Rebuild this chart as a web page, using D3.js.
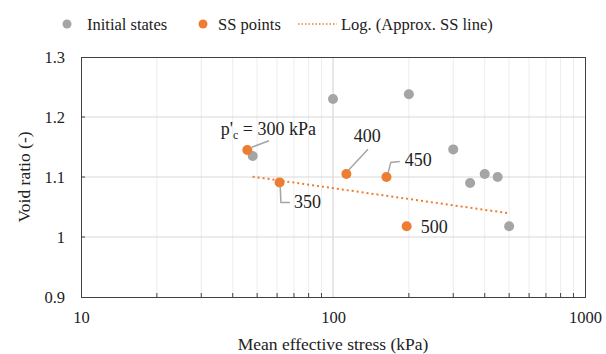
<!DOCTYPE html>
<html>
<head>
<meta charset="utf-8">
<script src="https://cdn.jsdelivr.net/npm/d3@7"></script>
<style>
  html, body { margin: 0; padding: 0; background: #fff; }
  svg { display: block; font-family: "Liberation Serif", "Times New Roman", serif; }
</style>
</head>
<body>
<svg id="chart" width="606" height="354"></svg>
<script>
// Initial states (mean effective stress in kPa, void ratio)
const initialP = [48, 100, 200, 300, 350, 400, 450, 500];
const initialE = [1.135, 1.230, 1.238, 1.146, 1.090, 1.105, 1.100, 1.018];

// Steady-state points, one per preconsolidation pressure
const ssP = [45.7, 61.4, 113, 163, 196];
const ssE = [1.145, 1.091, 1.105, 1.100, 1.018];
const ssPc = [300, 350, 400, 450, 500];

// Logarithmic trendline end points (straight on a log axis)
const trendP = [48, 500];
const trendE = [1.1005, 1.0395];

// Axis ticks
const xTicks = [10, 100, 1000];
const xMinor = [20, 30, 40, 50, 60, 70, 80, 90, 200, 300, 400, 500, 600, 700, 800, 900];
const yTicks = [0.9, 1.0, 1.1, 1.2, 1.3];

const legendLabels = ["Initial states", "SS points", "Log. (Approx. SS line)"];

const GREY = "#a5a5a5";
const ORANGE = "#ed7d31";
const SERIF = "Liberation Serif";

const svg = d3.select("#chart");
const plot = { left: 81, right: 585, top: 57, bottom: 297 };

const x = d3.scaleLog().domain([10, 1000]).range([plot.left, plot.right]);
const y = d3.scaleLinear().domain([0.9, 1.3]).range([plot.bottom, plot.top]);

// Gridlines
const grid = svg.append("g");
grid.selectAll("line.minor").data(xMinor).join("line")
  .attr("x1", d => x(d)).attr("x2", d => x(d))
  .attr("y1", plot.top).attr("y2", plot.bottom)
  .attr("stroke", "#ededed").attr("stroke-width", 1);
grid.selectAll("line.vmajor").data(xTicks.slice(1, -1)).join("line")
  .attr("x1", d => x(d)).attr("x2", d => x(d))
  .attr("y1", plot.top).attr("y2", plot.bottom)
  .attr("stroke", "#cfcfcf").attr("stroke-width", 1);
grid.selectAll("line.hmajor").data(yTicks.slice(1, -1)).join("line")
  .attr("x1", plot.left).attr("x2", plot.right)
  .attr("y1", d => y(d)).attr("y2", d => y(d))
  .attr("stroke", "#d9d9d9").attr("stroke-width", 1);

// Axes
const xAxis = d3.axisBottom(x).tickValues(xTicks).tickFormat(d3.format("d")).tickSize(0).tickPadding(14);
const gx = svg.append("g").attr("transform", `translate(0,${plot.bottom})`).call(xAxis);
gx.attr("font-family", SERIF);
gx.select(".domain").remove();
gx.selectAll("text").attr("font-size", 16.5).attr("fill", "#222");

const yAxis = d3.axisLeft(y).tickValues(yTicks).tickFormat(d => d3.format("")(+d.toFixed(1))).tickSize(0).tickPadding(16);
const gy = svg.append("g").attr("transform", `translate(${plot.left},0)`).call(yAxis);
gy.attr("font-family", SERIF);
gy.select(".domain").remove();
gy.selectAll("text").attr("font-size", 16.5).attr("fill", "#222");

// Inner tick marks
svg.append("g").selectAll("line").data(xMinor).join("line")
  .attr("x1", d => x(d)).attr("x2", d => x(d))
  .attr("y1", plot.bottom).attr("y2", plot.bottom - 4)
  .attr("stroke", "#444").attr("stroke-width", 1);
svg.append("g").selectAll("line").data(yTicks.slice(1, -1)).join("line")
  .attr("x1", plot.left).attr("x2", plot.left + 4)
  .attr("y1", d => y(d)).attr("y2", d => y(d))
  .attr("stroke", "#444").attr("stroke-width", 1);

// Plot frame
svg.append("rect")
  .attr("x", plot.left + 0.5).attr("y", plot.top + 0.5)
  .attr("width", plot.right - plot.left).attr("height", plot.bottom - plot.top)
  .attr("fill", "none").attr("stroke", "#404040").attr("stroke-width", 1);

// Trendline
svg.append("path")
  .datum(trendP.map((p, i) => [p, trendE[i]]))
  .attr("d", d3.line().x(d => x(d[0])).y(d => y(d[1])))
  .attr("fill", "none").attr("stroke", ORANGE).attr("stroke-width", 2)
  .attr("stroke-dasharray", "2,3");

// Initial states
svg.append("g").selectAll("circle").data(initialP.map((p, i) => [p, initialE[i]])).join("circle")
  .attr("cx", d => x(d[0])).attr("cy", d => y(d[1])).attr("r", 5)
  .attr("fill", GREY);

// SS points
const ss = ssP.map((p, i) => ({ p, e: ssE[i], pc: ssPc[i] }));
svg.append("g").selectAll("circle").data(ss).join("circle")
  .attr("cx", d => x(d.p)).attr("cy", d => y(d.e)).attr("r", 5)
  .attr("fill", ORANGE);

// Callout placement relative to each SS point: text offset and leader path
const callouts = {
  300: { tx: -26.6, ty: -15, leader: [[4.4, -2.7], [21.7, -9.3]] },
  350: { tx: 14.3, ty: 25.6, leader: [[0.6, 4], [1.3, 20], [10.3, 20]] },
  400: { tx: 7.3, ty: -32.3, leader: [[2.3, -4], [21.6, -24.7]] },
  450: { tx: 18.3, ty: -10.6, leader: [[1.6, -4], [4.3, -14.6], [13.3, -15.6]] },
  500: { tx: 14, ty: 6.4, leader: null }
};

const ann = svg.append("g");
ss.forEach(d => {
  const cx = x(d.p), cy = y(d.e);
  const c = callouts[d.pc];
  if (c.leader) {
    ann.append("path")
      .attr("d", d3.line()(c.leader.map(q => [cx + q[0], cy + q[1]])))
      .attr("fill", "none").attr("stroke", GREY).attr("stroke-width", 1.5);
  }
  const t = ann.append("text")
    .attr("x", cx + c.tx).attr("y", cy + c.ty)
    .attr("font-size", 18).attr("fill", "#222");
  if (d.pc === ssPc[0]) {
    t.append("tspan").text("p'");
    t.append("tspan").attr("font-size", 12).attr("dy", 4).text("c");
    t.append("tspan").attr("dy", -4).text(` = ${d.pc} kPa`);
  } else {
    t.text(d.pc);
  }
});

// Axis titles
svg.append("text")
  .attr("x", (plot.left + plot.right) / 2).attr("y", 350)
  .attr("text-anchor", "middle").attr("font-size", 17.5).attr("fill", "#222")
  .text("Mean effective stress (kPa)");
svg.append("text")
  .attr("transform", `translate(30,${(plot.top + plot.bottom) / 2}) rotate(-90)`)
  .attr("text-anchor", "middle").attr("font-size", 17.5).attr("fill", "#222")
  .text("Void ratio (-)");

// Legend
const lg = svg.append("g").attr("font-size", 16.5).attr("fill", "#222");
lg.append("circle").attr("cx", 67).attr("cy", 24).attr("r", 4.5).attr("fill", GREY);
lg.append("text").attr("x", 87).attr("y", 29.5).text(legendLabels[0]);
lg.append("circle").attr("cx", 203).attr("cy", 24).attr("r", 4.5).attr("fill", ORANGE);
lg.append("text").attr("x", 218).attr("y", 29.5).text(legendLabels[1]);
lg.append("line").attr("x1", 298).attr("x2", 337).attr("y1", 24).attr("y2", 24)
  .attr("stroke", ORANGE).attr("stroke-width", 1.5).attr("stroke-dasharray", "1.5,2");
lg.append("text").attr("x", 341).attr("y", 29.5).text(legendLabels[2]);
</script>
</body>
</html>
